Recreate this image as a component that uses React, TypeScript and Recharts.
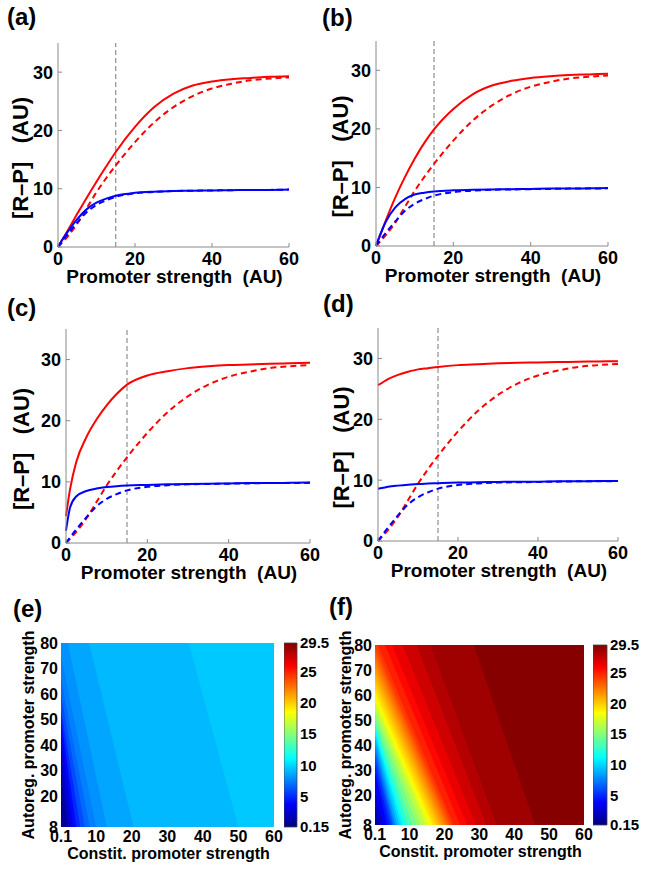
import React from 'react';
import {
  Area,
  Bar,
  BarChart,
  ComposedChart,
  Line,
  LineChart,
  ReferenceLine,
  XAxis,
  YAxis,
} from 'recharts';

const FONT = '"Liberation Sans", Arial, Helvetica, sans-serif';
const AXIS = '#8a8a8a';

// promoter strength grid shared by every curve (AU)
const promoter = [0, 1, 2.5, 5, 7.5, 10, 12.5, 15, 20, 25, 30, 35, 40, 45, 50, 55, 60];

// constitutive promoter (dashed), same in panels a-d
const redConstit = [0, 0.7, 1.8, 4.0, 6.7, 9.4, 11.8, 14.0, 18.0, 21.4, 24.0, 25.9, 27.2, 28.0, 28.6, 28.9, 29.1];
const blueConstit = [0, 0.9, 2.2, 4.2, 6.0, 7.2, 8.0, 8.6, 9.2, 9.45, 9.6, 9.65, 9.7, 9.75, 9.8, 9.8, 9.85];

// autoregulated promoter (solid)
const redAutoA = [0, 1.1, 2.8, 5.7, 8.5, 11.2, 13.8, 16.3, 20.6, 24.0, 26.3, 27.7, 28.4, 28.8, 29.0, 29.2, 29.3];
const blueAutoA = [0, 1.1, 2.6, 4.8, 6.5, 7.6, 8.3, 8.8, 9.3, 9.5, 9.6, 9.65, 9.7, 9.75, 9.8, 9.8, 9.85];
const redAutoB = [0, 1.7, 4.3, 8.3, 11.8, 14.9, 17.6, 19.9, 23.4, 25.9, 27.4, 28.2, 28.7, 29.0, 29.2, 29.3, 29.4];
const blueAutoB = [0, 1.8, 4.1, 6.6, 8.0, 8.8, 9.1, 9.3, 9.5, 9.6, 9.65, 9.7, 9.75, 9.8, 9.8, 9.85, 9.9];
const redAutoC = [4.4, 8.8, 13.2, 17.3, 20.2, 22.5, 24.4, 25.9, 27.4, 28.1, 28.6, 28.9, 29.1, 29.2, 29.3, 29.4, 29.5];
const blueAutoC = [2.0, 5.8, 7.6, 8.5, 8.9, 9.15, 9.3, 9.4, 9.5, 9.6, 9.65, 9.7, 9.75, 9.8, 9.8, 9.85, 9.9];
const redAutoD = [25.6, 26.0, 26.6, 27.3, 27.8, 28.2, 28.4, 28.6, 28.9, 29.05, 29.2, 29.3, 29.35, 29.4, 29.45, 29.5, 29.55];
const blueAutoD = [8.6, 8.7, 8.9, 9.1, 9.25, 9.35, 9.45, 9.5, 9.6, 9.65, 9.7, 9.75, 9.75, 9.8, 9.8, 9.85, 9.85];

const curveXTicks = [0, 20, 40, 60];
const curveYTicks = [0, 10, 20, 30];

// heat maps as filled contours: each line runs from its upper end (top or left edge)
// to its lower end on the bottom edge (y = 8); band = value just below that line
const eLevels = [1.5, 2.5, 3.5, 4.5, 5.5, 6.5, 7.2, 7.8, 8.3, 8.9, 9.4];
const eUpperX = [0.1, 0.1, 0.1, 0.1, 0.1, 0.1, 0.1, 0.1, 2, 8, 36];
const eUpperY = [32, 40, 46, 50, 54, 60, 66, 75, 80, 80, 80];
const eLowerX = [1.8, 2.6, 3.5, 4.4, 5.5, 6.8, 8.2, 10, 13, 20.5, 50];
const eBand = [0.8, 2.0, 3.0, 4.0, 5.0, 6.0, 6.85, 7.5, 8.05, 8.6, 9.15];
const eTop = 9.6;

const fLevels = [
  1, 2, 3, 4, 5, 6, 7, 8, 9, 10, 11, 12, 13, 14, 15, 16,
  17, 17.5, 18, 18.5, 19, 19.5, 20, 20.5, 21, 21.5, 22, 22.5, 23, 23.5, 24, 24.5,
  25.3, 26.0, 26.8, 27.6, 28.3, 28.9,
];
const fUpperX = [
  0.1, 0.1, 0.1, 0.1, 0.1, 0.1, 0.1, 0.1, 0.1, 0.1, 0.1, 0.1, 0.1, 0.1, 0.1, 0.1,
  0.1, 0.1, 0.1, 0.1, 0.1, 0.1, 0.1, 0.1, 0.1, 0.1, 0.1, 0.1, 0.1, 0.1, 0.1, 0.9,
  3, 5, 8, 12, 16, 28.4,
];
const fUpperY = [
  10.5, 16, 22, 28.7, 32, 35, 37.5, 40, 42, 44, 45.5, 47, 48.5, 50, 52, 54,
  56.2, 57.3, 58.5, 59.7, 61, 63, 65, 66.8, 68.7, 70.6, 72.5, 74.3, 76.2, 77.9, 79.6, 80,
  80, 80, 80, 80, 80, 80,
];
const fLowerX = [
  0.6, 1.5, 2.4, 3.5, 4.3, 5.0, 5.45, 5.9, 6.5, 7.2, 7.9, 8.7, 9.7, 10.8, 12.1, 13.4,
  14.6, 15.15, 15.7, 16.1, 16.5, 17.15, 17.8, 18.35, 18.9, 19.45, 20.0, 20.5, 21.0, 21.5, 22.0, 22.6,
  24.5, 26.5, 29, 32, 35, 46,
];
const fBand = [
  0.6, 1.5, 2.5, 3.5, 4.5, 5.5, 6.5, 7.5, 8.5, 9.5, 10.5, 11.5, 12.5, 13.5, 14.5, 15.5,
  16.5, 17.25, 17.75, 18.25, 18.75, 19.25, 19.75, 20.25, 20.75, 21.25, 21.75, 22.25, 22.75, 23.25, 23.75, 24.25,
  24.9, 25.65, 26.4, 27.2, 27.95, 28.6,
];
const fTop = 29.3;

const heatXTicks = [0.1, 10, 20, 30, 40, 50, 60];
const heatYTicks = [8, 20, 30, 40, 50, 60, 70, 80];
const barTicks = [0.15, 5, 10, 15, 20, 25, 29.5];
const CMIN = 0.15;
const CMAX = 29.5;

function jet(v: number) {
  const t = Math.min(1, Math.max(0, (v - CMIN) / (CMAX - CMIN)));
  const c = (x: number) => Math.round(255 * Math.min(1, Math.max(0, 1.5 - Math.abs(x))));
  return `rgb(${c(4 * t - 3)},${c(4 * t - 2)},${c(4 * t - 1)})`;
}

const tickStyle = (size: number) => ({ fontSize: size, fontWeight: 700, fill: '#000', fontFamily: FONT });

const xLabel = (text: string, dy: number, size: number) => (props: any) => {
  const vb = props.viewBox;
  return (
    <text x={vb.x + vb.width / 2 + 1} y={vb.y + dy} textAnchor="middle" fontFamily={FONT} fontWeight={700} fontSize={size} fill="#000">
      {text}
    </text>
  );
};

const yLabel = (text: string, cx: number, dyc: number, size: number) => (props: any) => {
  const vb = props.viewBox;
  const x = vb.x + cx;
  const y = vb.y + vb.height / 2 + dyc;
  return (
    <text x={x} y={y} transform={`rotate(-90, ${x}, ${y})`} textAnchor="middle" dominantBaseline="central" fontFamily={FONT} fontWeight={700} fontSize={size} fill="#000">
      {text}
    </text>
  );
};

type Box = { left: number; top: number; w: number; h: number };

function CurvePanel({ x0, plot, red, blue, labelX }: { x0: number; plot: Box; red: number[]; blue: number[]; labelX: number }) {
  const data = promoter.map((p, i) => ({
    p,
    redAuto: red[i],
    redConst: redConstit[i],
    blueAuto: blue[i],
    blueConst: blueConstit[i],
  }));
  const yw = plot.left - x0;
  const padT = 6;
  const padR = 22;
  const xh = 44;
  return (
    <div style={{ position: 'absolute', left: x0, top: plot.top - padT }}>
      <LineChart width={yw + plot.w + padR} height={padT + plot.h + xh} data={data} margin={{ top: padT, right: padR, bottom: 0, left: 0 }}>
        <XAxis
          type="number"
          dataKey="p"
          domain={[0, 60]}
          ticks={curveXTicks}
          interval={0}
          height={xh}
          stroke={AXIS}
          tickSize={-4}
          tickMargin={9}
          tick={tickStyle(18)}
          label={{ content: xLabel('Promoter strength\u00a0\u00a0(AU)', 36, 19) }}
        />
        <YAxis
          type="number"
          domain={[0, 35]}
          ticks={curveYTicks}
          interval={0}
          width={yw}
          stroke={AXIS}
          tickSize={-4}
          tickMargin={9}
          tick={tickStyle(18)}
          label={{ content: yLabel('[R\u2013P]\u00a0\u00a0\u00a0(AU)', labelX - x0, 13, 22) }}
        />
        <ReferenceLine x={15} stroke="#7a7a7a" strokeDasharray="5 3" strokeWidth={1} />
        <Line dataKey="redAuto" type="monotone" stroke="#ff0000" strokeWidth={2} dot={false} isAnimationActive={false} />
        <Line dataKey="redConst" type="monotone" stroke="#ff0000" strokeWidth={2} strokeDasharray="6 4" dot={false} isAnimationActive={false} />
        <Line dataKey="blueAuto" type="monotone" stroke="#0000ff" strokeWidth={2} dot={false} isAnimationActive={false} />
        <Line dataKey="blueConst" type="monotone" stroke="#0000ff" strokeWidth={2} strokeDasharray="6 4" dot={false} isAnimationActive={false} />
      </LineChart>
    </div>
  );
}

function contourTable(upperX: number[], upperY: number[], lowerX: number[]) {
  const rows = new Map<number, any>();
  const put = (x: number, key: string, y: number) => {
    const r = rows.get(x) ?? { x };
    r[key] = y;
    rows.set(x, r);
  };
  put(0.1, 'bg', 80);
  put(60, 'bg', 80);
  upperX.forEach((ux, i) => {
    const key = `c${i}`;
    if (upperY[i] >= 80 && ux > 0.1) put(0.1, key, 80);
    put(ux, key, upperY[i]);
    put(lowerX[i], key, 8);
  });
  return [...rows.values()].sort((a, b) => a.x - b.x);
}

const jetStops = [0, 0.125, 0.375, 0.625, 0.875, 1];

function ColorBar({ left, top, w, h, gid }: { left: number; top: number; w: number; h: number; gid: string }) {
  const pad = 10;
  const data = [{ k: 'bar', span: [CMIN, CMAX] }];
  return (
    <div style={{ position: 'absolute', left, top: top - pad }}>
      <BarChart width={w + 42} height={h + pad * 2} data={data} margin={{ top: pad, right: 0, bottom: pad, left: 0 }} barCategoryGap={0}>
        <defs>
          <linearGradient id={gid} x1="0" y1="1" x2="0" y2="0">
            {jetStops.map((t) => (
              <stop key={t} offset={t} stopColor={jet(CMIN + t * (CMAX - CMIN))} />
            ))}
          </linearGradient>
        </defs>
        <XAxis dataKey="k" type="category" hide />
        <YAxis
          orientation="right"
          type="number"
          domain={[CMIN, CMAX]}
          ticks={barTicks}
          interval={0}
          width={42}
          axisLine={false}
          tickLine={false}
          tickSize={0}
          tickMargin={3}
          tick={tickStyle(15)}
        />
        <Bar dataKey="span" fill={`url(#${gid})`} stroke="#444" strokeWidth={0.8} isAnimationActive={false} />
      </BarChart>
    </div>
  );
}

function HeatPanel(props: {
  x0: number;
  plot: Box;
  upperX: number[];
  upperY: number[];
  lowerX: number[];
  band: number[];
  top: number;
  labelX: number;
  bar: { left: number; w: number };
  gid: string;
}) {
  const { x0, plot, upperX, upperY, lowerX, band, top, labelX, bar, gid } = props;
  const table = contourTable(upperX, upperY, lowerX);
  const yw = plot.left - x0;
  const padT = 30;
  const padR = 9;
  const xh = 40;
  const order = band.map((_, k) => band.length - 1 - k);
  return (
    <>
      <div style={{ position: 'absolute', left: x0, top: plot.top - padT }}>
        <ComposedChart width={yw + plot.w + padR} height={padT + plot.h + xh} data={table} margin={{ top: padT, right: padR, bottom: 0, left: 0 }}>
          <XAxis
            type="number"
            dataKey="x"
            domain={[0.1, 60]}
            ticks={heatXTicks}
            interval={0}
            height={xh}
            axisLine={false}
            tickLine={false}
            tickSize={0}
            tickMargin={4}
            tick={tickStyle(16)}
            label={{ content: xLabel('Constit. promoter strength', 32, 16) }}
          />
          <YAxis
            type="number"
            domain={[8, 80]}
            ticks={heatYTicks}
            interval={0}
            width={yw}
            axisLine={false}
            tickLine={false}
            tickSize={0}
            tickMargin={3}
            tick={tickStyle(16)}
            label={{ content: yLabel('Autoreg. promoter strength', labelX - x0, 0, 16) }}
          />
          <Area dataKey="bg" type="linear" baseValue={8} connectNulls stroke="none" fill={jet(top)} fillOpacity={1} dot={false} activeDot={false} isAnimationActive={false} />
          {order.map((i) => (
            <Area
              key={i}
              dataKey={`c${i}`}
              type="linear"
              baseValue={8}
              connectNulls
              stroke="none"
              fill={jet(band[i])}
              fillOpacity={1}
              dot={false}
              activeDot={false}
              isAnimationActive={false}
            />
          ))}
        </ComposedChart>
      </div>
      <ColorBar left={bar.left} top={plot.top} w={bar.w} h={plot.h} gid={gid} />
    </>
  );
}

function Tag({ text, left, top }: { text: string; left: number; top: number }) {
  return (
    <div style={{ position: 'absolute', left, top, fontSize: 24, lineHeight: '24px', fontWeight: 700, fontFamily: FONT, color: '#000' }}>
      {text}
    </div>
  );
}

export default function App() {
  return (
    <div style={{ position: 'absolute', left: 0, top: 0, width: 648, height: 872, background: '#fff', fontFamily: FONT, overflow: 'hidden' }}>
      <CurvePanel x0={0} plot={{ left: 58, top: 43, w: 231, h: 204 }} red={redAutoA} blue={blueAutoA} labelX={20} />
      <CurvePanel x0={324} plot={{ left: 376, top: 41, w: 232, h: 205 }} red={redAutoB} blue={blueAutoB} labelX={340} />
      <CurvePanel x0={0} plot={{ left: 66, top: 329, w: 244, h: 214 }} red={redAutoC} blue={blueAutoC} labelX={21} />
      <CurvePanel x0={324} plot={{ left: 378, top: 328, w: 240, h: 213 }} red={redAutoD} blue={blueAutoD} labelX={341} />
      <HeatPanel
        x0={0}
        plot={{ left: 61, top: 643, w: 213, h: 184 }}
        upperX={eUpperX}
        upperY={eUpperY}
        lowerX={eLowerX}
        band={eBand}
        top={eTop}
        labelX={28}
        bar={{ left: 284, w: 13 }}
        gid="jet-e"
      />
      <HeatPanel
        x0={324}
        plot={{ left: 375, top: 645, w: 209, h: 180 }}
        upperX={fUpperX}
        upperY={fUpperY}
        lowerX={fLowerX}
        band={fBand}
        top={fTop}
        labelX={345}
        bar={{ left: 593, w: 14 }}
        gid="jet-f"
      />
      <Tag text="(a)" left={7} top={5} />
      <Tag text="(b)" left={322} top={6} />
      <Tag text="(c)" left={7} top={296} />
      <Tag text="(d)" left={323} top={292} />
      <Tag text="(e)" left={13} top={597} />
      <Tag text="(f)" left={329} top={595} />
    </div>
  );
}
